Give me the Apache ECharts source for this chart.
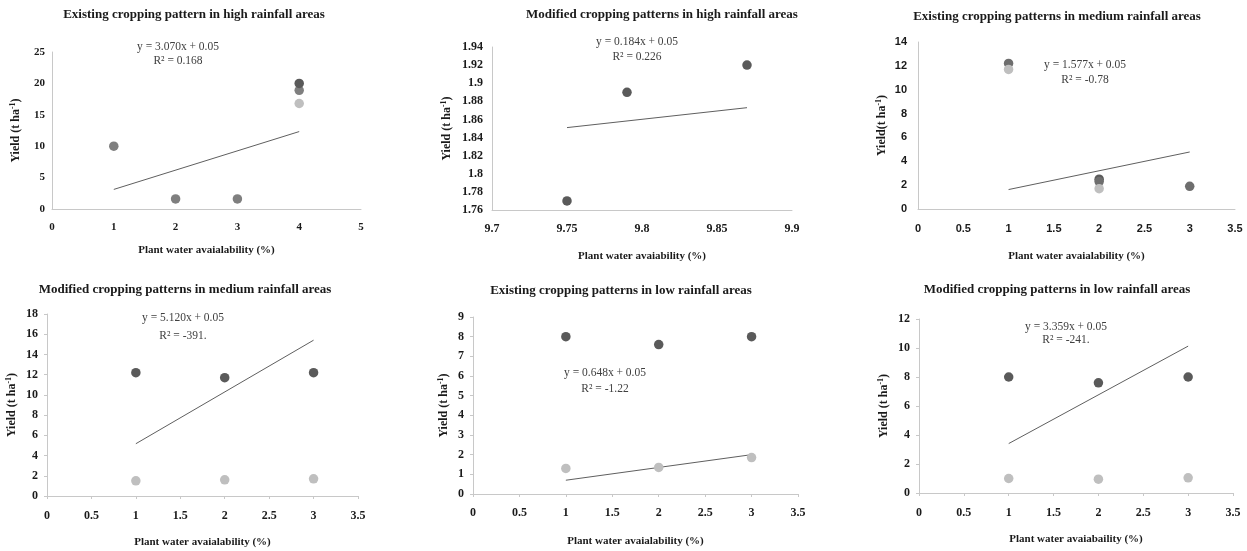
<!DOCTYPE html>
<html>
<head>
<meta charset="utf-8">
<script src="https://cdn.jsdelivr.net/npm/echarts@6/dist/echarts.min.js"></script>
<style>
html,body{margin:0;padding:0;background:#fff;}
#c{width:1247px;height:551px;}
</style>
</head>
<body>
<div id="c"></div>
<script>
// ---------- DATA ----------
const titles = [
  'Existing cropping pattern in high rainfall areas',
  'Modified cropping patterns in high rainfall areas',
  'Existing cropping patterns in medium rainfall areas',
  'Modified cropping patterns in medium rainfall areas',
  'Existing cropping patterns in low rainfall areas',
  'Modified cropping patterns in low rainfall areas'
];
const xTitles = [
  'Plant water avaialability (%)',
  'Plant water avaiability (%)',
  'Plant water avaialability (%)',
  'Plant water avaialability (%)',
  'Plant water avaialability (%)',
  'Plant water avaiabaility (%)'
];
const eqLines = [
  ['y = 3.070x + 0.05', 'R\u00b2 = 0.168'],
  ['y = 0.184x + 0.05', 'R\u00b2 = 0.226'],
  ['y = 1.577x + 0.05', 'R\u00b2 = -0.78'],
  ['y = 5.120x + 0.05', 'R\u00b2 = -391.'],
  ['y = 0.648x + 0.05', 'R\u00b2 = -1.22'],
  ['y = 3.359x + 0.05', 'R\u00b2 = -241.']
];

// x values per panel
const x1 = [1, 2, 3, 4];
const x2 = [9.75, 9.79, 9.87];
const x3 = [1, 2, 3];
const x4 = [1, 2, 3];
const x5 = [1, 2, 3];
const x6 = [1, 2, 3];

// yields: dark, medium, light series per panel
const dark1 = [null, null, null, 20.0];
const med1 = [10.0, 1.6, 1.6, 18.9];
const light1 = [null, null, null, 16.8];

const dark2 = [1.77, 1.89, 1.92];

const dark3 = [null, 2.5, null];
const med3 = [12.2, 2.3, 1.9];
const light3 = [11.7, 1.7, null];

const dark4 = [12.2, 11.7, 12.2];
const light4 = [1.5, 1.6, 1.7];

const dark5 = [8.0, 7.6, 8.0];
const light5 = [1.3, 1.35, 1.85];

const dark6 = [8.0, 7.6, 8.0];
const light6 = [1.0, 0.95, 1.05];

// trend line endpoints
const trendX1 = [1, 4],       trendY1 = [3.12, 12.33];
const trendX2 = [9.75, 9.87], trendY2 = [1.851, 1.873];
const trendX3 = [1, 3],       trendY3 = [1.63, 4.78];
const trendX4 = [1, 3],       trendY4 = [5.17, 15.41];
const trendX5 = [1, 3],       trendY5 = [0.70, 2.00];
const trendX6 = [1, 3],       trendY6 = [3.41, 10.13];

// axis ranges
const xRanges = [[0, 5, 1], [9.7, 9.9, 0.05], [0, 3.5, 0.5], [0, 3.5, 0.5], [0, 3.5, 0.5], [0, 3.5, 0.5]];
const yRanges = [[0, 25, 5], [1.76, 1.94, 0.02], [0, 14, 2], [0, 18, 2], [0, 9, 1], [0, 12, 2]];

// ---------- LAYOUT / STYLE ----------
const grids = [
  {left: 52, top: 52, width: 309, height: 157},
  {left: 492, top: 47, width: 300, height: 163},
  {left: 918, top: 42, width: 317, height: 167},
  {left: 47, top: 314, width: 311, height: 182},
  {left: 473, top: 317, width: 325, height: 177},
  {left: 919, top: 319, width: 314, height: 174}
];
const titlePos = [[194, 15], [662, 15], [1057, 17], [185, 290], [621, 291], [1057, 290]];
const eqPos = [[178, 47, 61], [637, 42, 57], [1085, 65, 80], [183, 318, 336], [605, 373, 389], [1066, 327, 340]];
const yNameGap = [29, 38, 29, 28, 22, 28];
const xNameGap = [36, 41, 42, 41, 42, 41];
const xLabelMargin = [13, 13, 14, 14, 13, 14];
const yLabelMargin = [7, 9, 11, 9, 9, 9];
const labelSize = [11, 12, 11, 12, 12, 12];

const SERIF = '"Liberation Serif", "Times New Roman", serif';
const SANS = '"Liberation Sans", Arial, sans-serif';
const C_DARK = '#5a5a5a', C_MED = '#7f7f7f', C_LIGHT = '#bfbfbf';
const AXIS_C = '#c8c8c8';

const pair = (xs, ys) => xs.map((x, i) => ys[i] == null ? null : [x, ys[i]]).filter(d => d);

const panels = [
  {x: x1, sets: [[med1, C_MED], [dark1, C_DARK], [light1, C_LIGHT]], tx: trendX1, ty: trendY1},
  {x: x2, sets: [[dark2, C_DARK]], tx: trendX2, ty: trendY2},
  {x: x3, sets: [[dark3, C_DARK], [med3, '#6e6e6e'], [light3, C_LIGHT]], tx: trendX3, ty: trendY3},
  {x: x4, sets: [[dark4, C_DARK], [light4, C_LIGHT]], tx: trendX4, ty: trendY4},
  {x: x5, sets: [[dark5, C_DARK], [light5, C_LIGHT]], tx: trendX5, ty: trendY5},
  {x: x6, sets: [[dark6, C_DARK], [light6, C_LIGHT]], tx: trendX6, ty: trendY6}
];

const xAxis = [], yAxis = [], series = [], graphic = [];
panels.forEach((p, i) => {
  const bottomRow = i >= 3;
  const labelFont = i === 2 ? SANS : SERIF;
  xAxis.push({
    type: 'value', gridIndex: i,
    min: xRanges[i][0], max: xRanges[i][1], interval: xRanges[i][2],
    splitLine: {show: false},
    axisLine: {show: true, lineStyle: {color: AXIS_C, width: 1}},
    axisTick: {show: bottomRow, length: 3, lineStyle: {color: AXIS_C}},
    axisLabel: {margin: xLabelMargin[i], color: '#1a1a1a', fontFamily: labelFont, fontWeight: 'bold', fontSize: labelSize[i],
      showMinLabel: true, showMaxLabel: true},
    name: xTitles[i], nameLocation: 'middle', nameGap: xNameGap[i],
    nameTextStyle: {fontFamily: SERIF, fontWeight: 'bold', fontSize: 11, color: '#1a1a1a'}
  });
  yAxis.push({
    type: 'value', gridIndex: i,
    min: yRanges[i][0], max: yRanges[i][1], interval: yRanges[i][2],
    splitLine: {show: false},
    axisLine: {show: true, lineStyle: {color: AXIS_C, width: 1}},
    axisTick: {show: bottomRow, length: 3, lineStyle: {color: AXIS_C}},
    axisLabel: {margin: yLabelMargin[i], color: '#1a1a1a', fontFamily: labelFont, fontWeight: 'bold', fontSize: labelSize[i],
      showMinLabel: true, showMaxLabel: true},
    name: (i === 2 ? 'Yield(t ha{sup|-1})' : 'Yield (t ha{sup|-1})'), nameLocation: 'middle', nameGap: yNameGap[i],
    nameTextStyle: {fontFamily: SERIF, fontWeight: 'bold', fontSize: 12, color: '#1a1a1a',
      rich: {sup: {fontFamily: SERIF, fontWeight: 'bold', fontSize: 8, verticalAlign: 'top', padding: [0, 0, 6, 0], color: '#1a1a1a'}}}
  });
  p.sets.forEach(([ys, col]) => {
    series.push({
      type: 'scatter', xAxisIndex: i, yAxisIndex: i,
      symbol: 'circle', symbolSize: 9.5,
      itemStyle: {color: col, opacity: 1},
      data: pair(p.x, ys), silent: true
    });
  });
  series.push({
    type: 'line', xAxisIndex: i, yAxisIndex: i,
    showSymbol: false, symbol: 'none',
    lineStyle: {color: '#5f5f5f', width: 1},
    data: pair(p.tx, p.ty), silent: true, z: 1
  });
  graphic.push({
    type: 'text', x: titlePos[i][0], y: titlePos[i][1],
    style: {text: titles[i], fill: '#1a1a1a', font: 'bold 13px ' + SERIF, textAlign: 'center', textVerticalAlign: 'middle'}
  });
  graphic.push({
    type: 'text', x: eqPos[i][0], y: eqPos[i][1],
    style: {text: eqLines[i][0], fill: '#404040', font: '11.5px ' + SERIF, textAlign: 'center', textVerticalAlign: 'middle'}
  });
  graphic.push({
    type: 'text', x: eqPos[i][0], y: eqPos[i][2],
    style: {text: eqLines[i][1], fill: '#404040', font: '11.5px ' + SERIF, textAlign: 'center', textVerticalAlign: 'middle'}
  });
});

const chart = echarts.init(document.getElementById('c'), null, {renderer: 'canvas'});
chart.setOption({
  backgroundColor: '#ffffff',
  animation: false,
  grid: grids.map(g => Object.assign({containLabel: false, outerBoundsMode: 'none'}, g)),
  xAxis, yAxis, series, graphic
});
</script>
</body>
</html>
